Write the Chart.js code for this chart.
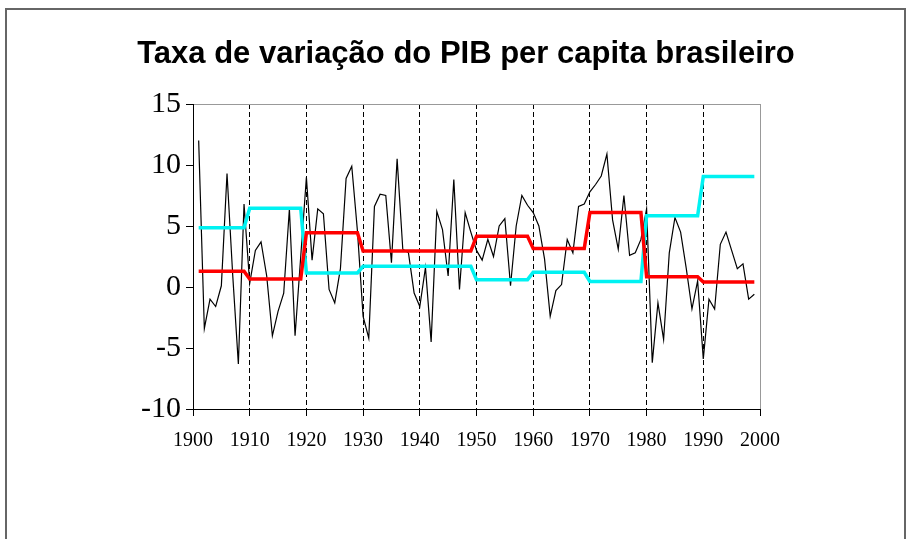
<!DOCTYPE html>
<html>
<head>
<meta charset="utf-8">
<script src="https://cdn.jsdelivr.net/npm/chart.js@4.4.0/dist/chart.umd.min.js"></script>
<style>
  html, body { margin: 0; padding: 0; background: #fff; overflow: hidden; }
  #wrap { position: relative; width: 907px; height: 539px; }
  #pib-chart { position: absolute; left: 0; top: 0; }
  #frame { position: absolute; left: 5px; top: 8px; width: 901px; height: 600px;
           border: 2px solid #666; box-sizing: border-box; pointer-events: none; }
</style>
</head>
<body>
<div id="wrap">
  <canvas id="pib-chart" width="907" height="539"></canvas>
  <div id="frame"></div>
</div>
<script>
/* ---- data ---- */
const TITLE = 'Taxa de variação do PIB per capita brasileiro';
const FIRST_YEAR = 1901;

// annual per-capita GDP growth (%), 1901..1999
const growth = [
  12.0, -3.4, -1.0, -1.6,  0.1,  9.3,  1.0, -6.3,  6.8,            // 1901-1909
   0.3,  3.0,  3.7,  0.9, -4.0, -2.0, -0.5,  6.4, -4.0,  2.5,      // 1910s
   9.0,  2.2,  6.4,  6.0, -0.2, -1.3,  1.5,  8.9,  9.9,  4.6,      // 1920s
  -2.4, -4.2,  6.6,  7.6,  7.5,  2.0, 10.5,  3.1,  2.8, -0.5,      // 1930s
  -1.6,  1.6, -4.5,  6.2,  4.7,  0.9,  8.8, -0.2,  6.1,  4.5,      // 1940s
   3.0,  2.2,  3.9,  2.5,  5.0,  5.6,  0.1,  5.0,  7.5,  6.7,      // 1950s
   6.1,  5.0,  2.3, -2.4, -0.3,  0.2,  3.9,  2.8,  6.6,  6.8,      // 1960s
   7.8,  8.4,  9.1, 10.9,  5.5,  3.1,  7.5,  2.6,  2.8,  3.9,      // 1970s
   6.4, -6.2, -1.3, -4.3,  2.8,  5.7,  4.5,  1.5, -1.8,  0.5,      // 1980s
  -5.9, -1.0, -1.8,  3.5,  4.5,  3.0,  1.5,  1.9, -1.0, -0.6       // 1990s
];

// decade levels (red = decade mean, cyan = second decade statistic)
const decades    = [1900, 1910, 1920, 1930, 1940, 1950, 1960, 1970, 1980, 1990];
const decadeRed  = [1.3, 0.65, 4.45, 2.95, 2.95, 4.15, 3.15, 6.1, 0.85, 0.4];
const decadeCyan = [4.85, 6.45, 1.15, 1.7, 1.7, 0.6, 1.2, 0.45, 5.85, 9.05];

const xMin = 1900, xMax = 2000, xStep = 10;
const yMin = -10, yMax = 15, yStep = 5;

/* ---- build points ---- */
const years = growth.map((_, i) => FIRST_YEAR + i);
const decadeOf = yr => decades.indexOf(Math.floor(yr / 10) * 10);
const growthPts = years.map((yr, i) => ({ x: yr, y: growth[i] }));
const redPts    = years.map(yr => ({ x: yr, y: decadeRed[decadeOf(yr)] }));
const cyanPts   = years.map(yr => ({ x: yr, y: decadeCyan[decadeOf(yr)] }));

const titlePlugin = {
  id: 'pibTitle',
  afterDraw(chart) {
    const c = chart.ctx;
    c.save();
    c.font = 'bold 31px "Liberation Sans", Arial, sans-serif';
    c.fillStyle = '#000';
    c.textAlign = 'center';
    c.textBaseline = 'alphabetic';
    c.fillText(TITLE, 466, 63);
    c.restore();
  }
};

const PAD_LEFT = 100;

new Chart(document.getElementById('pib-chart'), {
  type: 'line',
  data: {
    datasets: [
      { label: 'média', data: redPts, borderColor: '#FF0000', borderWidth: 3.5,
        pointRadius: 0, tension: 0 },
      { label: 'desvio', data: cyanPts, borderColor: '#00F2F2', borderWidth: 3.5,
        pointRadius: 0, tension: 0 },
      { label: 'PIB per capita', data: growthPts, borderColor: '#000', borderWidth: 1.2,
        pointRadius: 0, tension: 0 },
    ],
  },
  options: {
    responsive: false, animation: false,
    layout: { padding: { left: PAD_LEFT, right: 147, top: 104, bottom: 90 } },
    plugins: { legend: { display: false }, tooltip: { enabled: false }, title: { display: false } },
    scales: {
      x: {
        type: 'linear', min: xMin, max: xMax,
        afterFit: s => { s.height = 40; },
        ticks: { stepSize: xStep, autoSkip: false, maxRotation: 0, padding: 13, color: '#000',
                 font: { family: '"Liberation Serif", "Times New Roman", serif', size: 20 },
                 callback: v => String(v) },
        grid: { color: ctx => ctx.tick.value === xMin ? 'rgba(0,0,0,0)'
                            : ctx.tick.value === xMax ? '#999' : '#000',
                lineWidth: 1, tickColor: '#000', tickLength: 7 },
        border: { color: '#000', width: 1,
                  dash: ctx => (ctx.tick && ctx.tick.value === xMax) ? [] : [5, 3] },
      },
      y: {
        min: yMin, max: yMax,
        afterFit: s => { s.width = 193 - PAD_LEFT; },
        ticks: { stepSize: yStep, padding: 5, color: '#000',
                 font: { family: '"Liberation Serif", "Times New Roman", serif', size: 30 } },
        grid: { color: ctx => ctx.tick.value === yMax ? '#999' : 'rgba(0,0,0,0)',
                lineWidth: 1, tickColor: '#000', tickLength: 7 },
        border: { color: '#000', width: 1 },
      },
    },
  },
  plugins: [titlePlugin],
});
</script>
</body>
</html>
